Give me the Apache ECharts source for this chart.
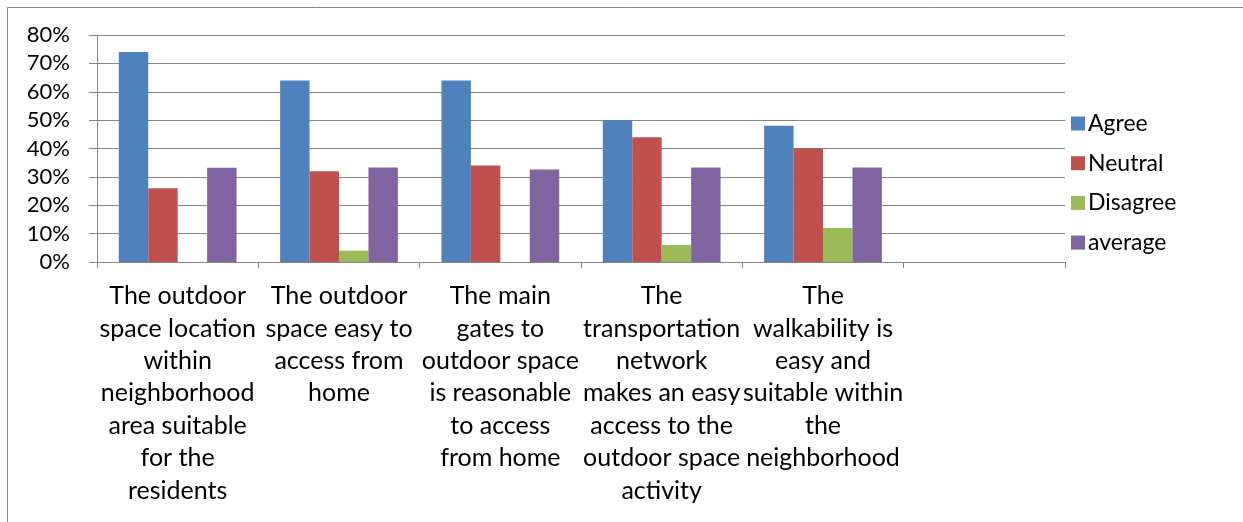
<!DOCTYPE html>
<html>
<head>
<meta charset="utf-8">
<script src="https://cdn.jsdelivr.net/npm/echarts@6/dist/echarts.min.js"></script>
<style>html,body{margin:0;padding:0;background:#fff;}#c{width:1243px;height:522px;}</style>
</head>
<body>
<div id="c"></div>
<script>
const categories = [
  "The outdoor\nspace location\nwithin\nneighborhood\narea suitable\nfor the\nresidents",
  "The outdoor\nspace easy to\naccess from\nhome",
  "The main\ngates to\noutdoor space\nis reasonable\nto access\nfrom home",
  "The\ntransportation\nnetwork\nmakes an easy\naccess to the\noutdoor space\nactivity",
  "The\nwalkability is\neasy and\nsuitable within\nthe\nneighborhood",
  ""
];
const seriesNames = ["Agree", "Neutral", "Disagree", "average"];
const agree    = [0.74, 0.64, 0.64, 0.50, 0.48, null];
const neutral  = [0.26, 0.32, 0.34, 0.44, 0.40, null];
const disagree = [0.00, 0.04, 0.00, 0.06, 0.12, null];
const average  = [0.332, 0.333, 0.326, 0.333, 0.333, null];
const colors = ["#4F81BD", "#C0504D", "#9BBB59", "#8064A2"];
const yTicks = {min: 0, max: 0.8, interval: 0.1};

const font = "Lato, 'Open Sans', sans-serif";
const chart = echarts.init(document.getElementById('c'), null, {renderer: 'canvas'});
const allData = [agree, neutral, disagree, average];
chart.setOption({
  animation: false,
  color: colors,
  textStyle: {fontFamily: font},
  graphic: [{
    type: 'rect', shape: {x: 7.5, y: 7.5, width: 1300, height: 600},
    style: {fill: 'none', stroke: '#868686', lineWidth: 1}, silent: true, z: -1
  }],
  grid: {left: 97, right: 178, top: 35, bottom: 260, containLabel: false},
  legend: {
    orient: 'vertical', left: 1066, top: 107,
    itemWidth: 14, itemHeight: 14, itemGap: 16.7, icon: 'rect',
    textStyle: {fontSize: 23, color: '#000', fontFamily: font, lineHeight: 22, padding: [0,0,0,-2]},
    data: seriesNames
  },
  xAxis: {
    type: 'category', data: categories,
    axisLine: {lineStyle: {color: '#868686', width: 1}},
    axisTick: {show: true, length: 6, lineStyle: {color: '#868686'}},
    axisLabel: {interval: 0, fontSize: 25, lineHeight: 32.4, color: '#000', margin: 18, fontFamily: font, align: 'center'}
  },
  yAxis: {
    type: 'value', min: yTicks.min, max: yTicks.max, interval: yTicks.interval,
    axisLine: {show: true, lineStyle: {color: '#868686', width: 1}},
    axisTick: {show: true, length: 8, lineStyle: {color: '#868686'}},
    splitLine: {lineStyle: {color: '#868686', width: 1}},
    axisLabel: {fontSize: 22, color: '#000', margin: 27, fontFamily: font,
      formatter: v => Math.round(v * 100) + '%'}
  },
  series: seriesNames.map((n, i) => ({
    name: n, type: 'bar', data: allData[i],
    barGap: '0%', barCategoryGap: '27%',
    itemStyle: {color: colors[i]}
  }))
});
</script>
</body>
</html>
